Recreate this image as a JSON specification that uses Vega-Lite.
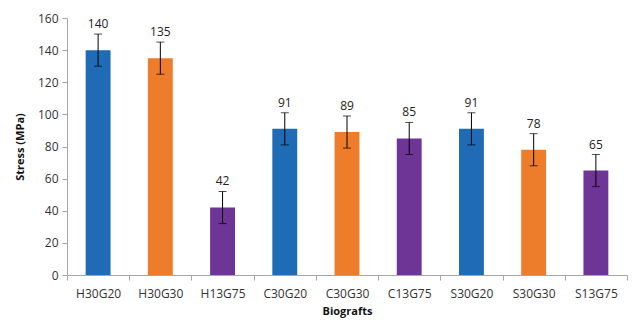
{
  "$schema": "https://vega.github.io/schema/vega-lite/v6.json",
  "width": 560,
  "height": 257,
  "autosize": {"type": "none"},
  "padding": {"left": 67, "top": 18, "right": 13, "bottom": 51},
  "background": "white",
  "config": {
    "view": {"stroke": null},
    "font": "Open Sans",
    "axis": {"grid": false, "domainColor": "#a6a6a6", "tickColor": "#a6a6a6", "labelColor": "#333333", "titleColor": "#111111", "labelFontSize": 12, "titleFontSize": 11, "titleFontWeight": "bold"},
    "axisY": {"values": [0, 20, 40, 60, 80, 100, 120, 140, 160], "labelOverlap": false, "tickSize": 5, "labelPadding": 4, "titlePadding": 12}
  },
  "data": {
    "values": [
      {"sample": "H30G20", "stress": 140, "lo": 130, "hi": 150, "group": "G20"},
      {"sample": "H30G30", "stress": 135, "lo": 125, "hi": 145, "group": "G30"},
      {"sample": "H13G75", "stress": 42, "lo": 32, "hi": 52, "group": "G75"},
      {"sample": "C30G20", "stress": 91, "lo": 81, "hi": 101, "group": "G20"},
      {"sample": "C30G30", "stress": 89, "lo": 79, "hi": 99, "group": "G30"},
      {"sample": "C13G75", "stress": 85, "lo": 75, "hi": 95, "group": "G75"},
      {"sample": "S30G20", "stress": 91, "lo": 81, "hi": 101, "group": "G20"},
      {"sample": "S30G30", "stress": 78, "lo": 68, "hi": 88, "group": "G30"},
      {"sample": "S13G75", "stress": 65, "lo": 55, "hi": 75, "group": "G75"}
    ]
  },
  "encoding": {
    "x": {
      "field": "sample", "type": "nominal", "sort": null,
      "scale": {"paddingInner": 0, "paddingOuter": 0},
      "axis": {"title": "Biografts", "labelAngle": 0, "tickBand": "extent", "tickSize": 5, "labelPadding": 8, "titlePadding": 6}
    }
  },
  "layer": [
    {
      "mark": {"type": "bar", "width": {"band": 0.4}},
      "encoding": {
        "y": {"field": "stress", "type": "quantitative", "scale": {"domain": [0, 160]},
          "axis": {"title": "Stress (MPa)"}},
        "color": {"field": "group", "type": "nominal", "legend": null,
          "scale": {"domain": ["G20", "G30", "G75"], "range": ["#1f6bb5", "#ed7d2b", "#6e3596"]}}
      }
    },
    {
      "mark": {"type": "rule", "color": "#000000", "strokeWidth": 1},
      "encoding": {"y": {"field": "lo", "type": "quantitative", "axis": {"title": "Stress (MPa)"}}, "y2": {"field": "hi"}}
    },
    {
      "mark": {"type": "tick", "color": "#000000", "thickness": 1, "size": 8, "orient": "horizontal"},
      "encoding": {"y": {"field": "lo", "type": "quantitative", "axis": {"title": "Stress (MPa)"}}}
    },
    {
      "mark": {"type": "tick", "color": "#000000", "thickness": 1, "size": 8, "orient": "horizontal"},
      "encoding": {"y": {"field": "hi", "type": "quantitative", "axis": {"title": "Stress (MPa)"}}}
    },
    {
      "mark": {"type": "text", "baseline": "bottom", "dy": -3, "fontSize": 12, "color": "#222222"},
      "encoding": {"y": {"field": "hi", "type": "quantitative", "axis": {"title": "Stress (MPa)"}}, "text": {"field": "stress", "type": "quantitative"}}
    }
  ]
}
